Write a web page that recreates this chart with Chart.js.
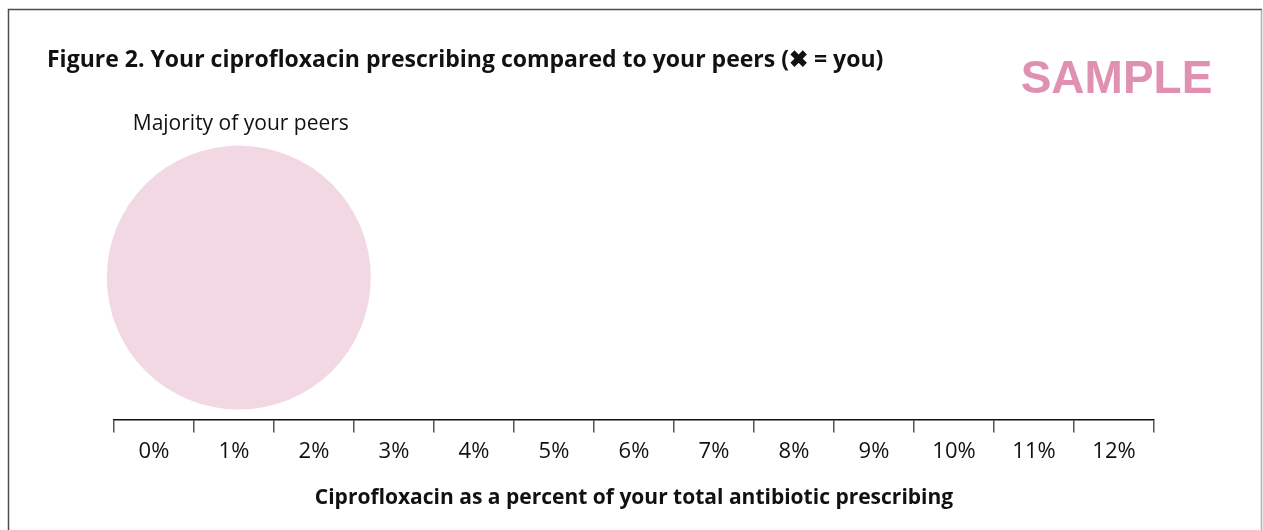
<!DOCTYPE html>
<html><head><meta charset="utf-8">
<script src="https://cdn.jsdelivr.net/npm/chart.js@4/dist/chart.umd.min.js"></script>
<style>html,body{margin:0;padding:0;background:#fff;}#wrap{position:absolute;left:0;top:0;width:1263px;height:530px;}</style>
</head><body><div id="wrap"><canvas id="c" width="1263" height="530"></canvas></div>
<script>
const tickLabels = ['0%','1%','2%','3%','4%','5%','6%','7%','8%','9%','10%','11%','12%'];
const tickValues = [0,1,2,3,4,5,6,7,8,9,10,11,12];
const peerX = [1.06];
const peerY = [49];
const peerR = [132];
const peerLabel = 'Majority of your peers';
const titleText = 'Figure 2. Your ciprofloxacin prescribing compared to your peers (\u2716 = you)';
const xTitle = 'Ciprofloxacin as a percent of your total antibiotic prescribing';
const stampText = 'SAMPLE';

const deco = {
  id: 'deco',
  afterDraw(chart) {
    const ctx = chart.ctx;
    ctx.save();
    ctx.lineWidth = 1.5;
    ctx.strokeStyle = '#4d4d4d';
    ctx.beginPath();
    ctx.moveTo(8.5, 530); ctx.lineTo(8.5, 9.5); ctx.lineTo(1262, 9.5);
    ctx.stroke();
    ctx.strokeStyle = '#b0b0b0';
    ctx.beginPath();
    ctx.moveTo(1261.5, 10); ctx.lineTo(1261.5, 530);
    ctx.stroke();
    ctx.fillStyle = '#111';
    ctx.font = 'bold 23px "Open Sans"';
    ctx.textBaseline = 'alphabetic';
    ctx.textAlign = 'left';
    ctx.fillText(titleText, 47, 67);
    ctx.fillStyle = '#e091b2';
    ctx.font = 'bold 46px "Liberation Sans"';
    ctx.textAlign = 'center';
    ctx.fillText(stampText, 1116.5, 93);
    const pt = chart.getDatasetMeta(0).data[0];
    ctx.fillStyle = '#111';
    ctx.font = '21px "Open Sans"';
    ctx.textAlign = 'center';
    ctx.fillText(peerLabel, pt.x + 2, 130);
    ctx.restore();
  }
};

new Chart(document.getElementById('c'), {
  type: 'bubble',
  data: {
    datasets: [{
      data: peerX.map((x, i) => ({x: x, y: peerY[i], r: peerR[i]})),
      backgroundColor: '#f1d8e3',
      borderWidth: 0,
      hoverBackgroundColor: '#f1d8e3',
      clip: false
    }]
  },
  options: {
    responsive: false,
    animation: false,
    events: [],
    layout: { autoPadding: false, padding: { left: 114, right: 109, top: 130, bottom: 19 } },
    plugins: { legend: { display: false }, tooltip: { enabled: false }, title: { display: false } },
    scales: {
      x: {
        type: 'linear',
        min: -0.5, max: 12.5,
        afterBuildTicks: (s) => { s.ticks = tickValues.map(v => ({value: v})); },
        afterFit: (s) => { s.paddingLeft = 0; s.paddingRight = 0; },
        grid: { offset: true, drawOnChartArea: false, drawTicks: true, tickLength: 13, color: '#555', lineWidth: 1.5 },
        border: { display: true, color: '#111', width: 1.5 },
        ticks: {
          padding: 6,
          color: '#111',
          font: { family: '"Open Sans"', size: 22 },
          maxRotation: 0, autoSkip: false,
          callback: (v) => tickLabels[tickValues.indexOf(v)]
        },
        title: {
          display: true, text: xTitle, color: '#111',
          font: { family: '"Open Sans"', size: 21, weight: 'bold' },
          padding: { top: 15, bottom: 0 }
        }
      },
      y: { display: false, min: 0, max: 100 }
    }
  },
  plugins: [deco]
});
</script></body></html>
